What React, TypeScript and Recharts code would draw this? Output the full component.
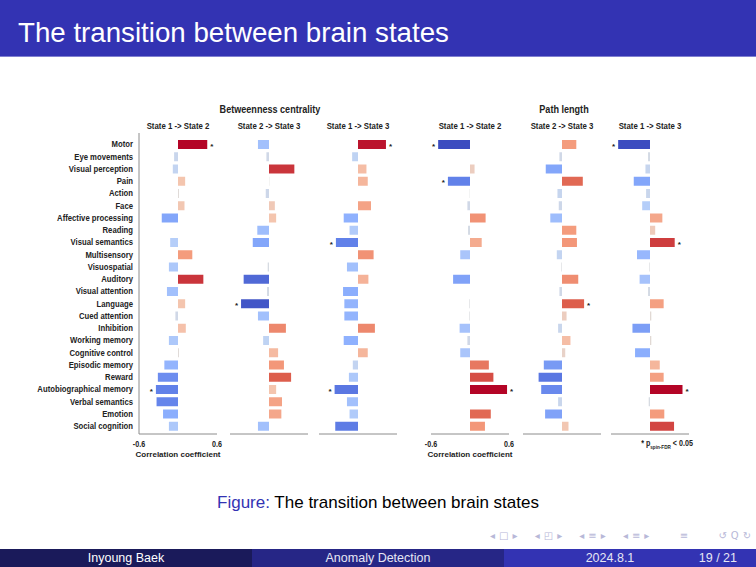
import React from "react";
import { BarChart, Bar, XAxis, YAxis, Cell, LabelList } from "recharts";

const regions = [
  "Motor",
  "Eye movements",
  "Visual perception",
  "Pain",
  "Action",
  "Face",
  "Affective processing",
  "Reading",
  "Visual semantics",
  "Multisensory",
  "Visuospatial",
  "Auditory",
  "Visual attention",
  "Language",
  "Cued attention",
  "Inhibition",
  "Working memory",
  "Cognitive control",
  "Episodic memory",
  "Reward",
  "Autobiographical memory",
  "Verbal semantics",
  "Emotion",
  "Social cognition",
];

// Betweenness centrality
const bcState12 = [0.45, -0.06, -0.08, 0.11, 0.015, 0.1, -0.25, 0, -0.12, 0.22, -0.14, 0.39, -0.17, 0.11, -0.04, 0.12, -0.14, 0.015, -0.21, -0.31, -0.34, -0.33, -0.23, -0.14];
const bcState23 = [-0.17, -0.04, 0.39, 0.005, -0.05, 0.09, 0.11, -0.18, -0.25, 0, -0.02, -0.39, -0.03, -0.43, -0.17, 0.26, -0.09, 0.14, 0.23, 0.34, 0.11, 0.2, 0.19, -0.17];
const bcState13 = [0.43, -0.09, 0.13, 0.15, 0, 0.2, -0.22, -0.13, -0.34, 0.24, -0.17, 0.16, -0.23, -0.21, -0.21, 0.26, -0.22, 0.15, -0.08, -0.14, -0.36, -0.17, -0.13, -0.35];

// Path length
const plState12 = [-0.49, 0, 0.07, -0.34, -0.005, -0.04, 0.24, -0.03, 0.18, -0.15, 0, -0.26, 0, -0.01, -0.01, -0.16, -0.04, -0.15, 0.29, 0.36, 0.57, 0, 0.32, 0.23];
const plState23 = [0.22, -0.04, -0.25, 0.32, -0.07, -0.05, -0.18, 0.22, 0.23, -0.08, -0.01, 0.25, -0.04, 0.34, 0.07, -0.06, 0.13, 0.05, -0.28, -0.36, -0.32, -0.06, -0.26, 0.1];
const plState13 = [-0.49, -0.03, -0.07, -0.25, -0.06, -0.12, 0.19, 0.08, 0.38, -0.2, -0.01, -0.16, -0.03, 0.21, 0.02, -0.27, 0.02, -0.23, 0.15, 0.21, 0.5, -0.02, 0.22, 0.37];

// p_spin-FDR < 0.05
const sigBc12 = ["Motor", "Autobiographical memory"];
const sigBc23 = ["Language"];
const sigBc13 = ["Motor", "Visual semantics", "Autobiographical memory"];
const sigPl12 = ["Motor", "Pain", "Autobiographical memory"];
const sigPl23 = ["Language"];
const sigPl13 = ["Motor", "Visual semantics", "Autobiographical memory"];

const xTicks = [-0.6, 0.6];

const CHART_FONT = "'Liberation Sans', Arial, sans-serif";
const SLIDE_FONT = "'Liberation Sans', Arial, sans-serif";
const AXIS_COLOR = "#8c8c8c";
const TEXT_COLOR = "#222";
const SQUEEZE = 0.84; // fake a condensed face

const PANEL_TOP = 133;
const PLOT_H = 301;
const X_AXIS_H = 26;
const PLOT_W = 78;
const SIDE = 16;

// matplotlib coolwarm, sampled
const coolwarm = [
  [59, 76, 192],
  [98, 130, 234],
  [141, 176, 254],
  [184, 208, 249],
  [221, 221, 221],
  [245, 196, 173],
  [244, 154, 123],
  [222, 96, 77],
  [180, 4, 38],
];

const colorFor = (v: number) => {
  const t = Math.max(0, Math.min(1, (v / 0.45 + 1) / 2));
  const p = t * (coolwarm.length - 1);
  const i = Math.min(coolwarm.length - 2, Math.floor(p));
  const f = p - i;
  const a = coolwarm[i];
  const b = coolwarm[i + 1];
  const c = a.map((ch, k) => Math.round(ch + (b[k] - ch) * f));
  return `rgb(${c[0]},${c[1]},${c[2]})`;
};

const renderStar = (props: any) => {
  const { x, y, width, height, value } = props;
  if (!value) return null;
  const x0 = Number(x);
  const x1 = Number(x) + Number(width);
  const pos = value === "+";
  const tx = pos ? Math.max(x0, x1) + 3 : Math.min(x0, x1) - 3;
  return (
    <text
      x={tx}
      y={Number(y) + Number(height) / 2 + 4}
      textAnchor={pos ? "start" : "end"}
      fontSize={8}
      fontWeight="bold"
      fontFamily={CHART_FONT}
      fill={TEXT_COLOR}
    >
      *
    </text>
  );
};

const NameTick = (props: any) => {
  const { x, y, payload } = props;
  return (
    <text
      x={0}
      y={0}
      transform={`translate(${x},${y}) scale(${SQUEEZE},1)`}
      textAnchor="end"
      dominantBaseline="central"
      fontSize={9.2}
      fontWeight="bold"
      fontFamily={CHART_FONT}
      fill={TEXT_COLOR}
    >
      {payload.value}
    </text>
  );
};

const ValueTick = (props: any) => {
  const { x, y, payload } = props;
  return (
    <text
      x={0}
      y={0}
      transform={`translate(${x},${y + 4}) scale(${SQUEEZE},1)`}
      textAnchor="middle"
      dominantBaseline="central"
      fontSize={8.5}
      fontWeight="bold"
      fontFamily={CHART_FONT}
      fill={TEXT_COLOR}
    >
      {payload.value}
    </text>
  );
};

const headStyle: React.CSSProperties = {
  position: "absolute",
  textAlign: "center",
  fontFamily: CHART_FONT,
  fontWeight: "bold",
  color: TEXT_COLOR,
  whiteSpace: "nowrap",
  transform: `scaleX(${SQUEEZE})`,
};

type PanelProps = {
  values: number[];
  sig: string[];
  left: number;
  header: string;
  first?: boolean;
  showTicks?: boolean;
};

function Panel({ values, sig, left, header, first, showTicks }: PanelProps) {
  const data = regions.map((name, i) => ({
    name,
    value: values[i],
    star: sig.includes(name) ? (values[i] >= 0 ? "+" : "-") : "",
  }));
  const yw = first ? 120 : 0;
  const ml = first ? 0 : SIDE;
  return (
    <>
      <div style={{ ...headStyle, left: left - 30, width: PLOT_W + 60, top: 121, fontSize: 9.3 }}>
        {header}
      </div>
      <div style={{ position: "absolute", left: left - yw - ml, top: PANEL_TOP }}>
        <BarChart
          layout="vertical"
          width={ml + yw + PLOT_W + SIDE}
          height={PLOT_H + X_AXIS_H}
          data={data}
          margin={{ top: 0, right: SIDE, bottom: 0, left: ml }}
        >
          <XAxis
            type="number"
            domain={[-0.6, 0.6]}
            ticks={xTicks}
            interval={0}
            allowDataOverflow
            axisLine={{ stroke: AXIS_COLOR }}
            tickLine={false}
            tickSize={4}
            tickMargin={2}
            height={X_AXIS_H}
            tick={showTicks ? <ValueTick /> : false}
            label={
              showTicks
                ? {
                    value: "Correlation coefficient",
                    position: "insideBottom",
                    offset: 3,
                    fontSize: 8,
                    fontWeight: "bold",
                    fill: TEXT_COLOR,
                    fontFamily: CHART_FONT,
                  }
                : undefined
            }
          />
          <YAxis
            type="category"
            dataKey="name"
            width={yw}
            interval={0}
            axisLine={{ stroke: AXIS_COLOR }}
            tickLine={false}
            tickSize={4}
            tickMargin={2}
            padding={{ top: 5, bottom: 2 }}
            tick={first ? <NameTick /> : false}
          />
          <Bar dataKey="value" barSize={9} isAnimationActive={false}>
            {data.map((d) => (
              <Cell key={d.name} fill={colorFor(d.value)} />
            ))}
            <LabelList dataKey="star" content={renderStar} />
          </Bar>
        </BarChart>
      </div>
    </>
  );
}

export default function App() {
  return (
    <div
      style={{
        position: "fixed",
        left: 0,
        top: 0,
        width: 756,
        height: 567,
        background: "#fff",
        overflow: "hidden",
      }}
    >
      {/* frame title */}
      <div
        style={{
          position: "absolute",
          left: 0,
          top: 0,
          width: 756,
          height: 56,
          background: "#3333b3",
          borderBottom: "1px solid #8080d0",
        }}
      />
      <div
        style={{
          position: "absolute",
          left: 18,
          top: 15,
          color: "#fff",
          fontFamily: SLIDE_FONT,
          fontSize: 27.7,
          lineHeight: "36px",
          whiteSpace: "nowrap",
        }}
      >
        The transition between brain states
      </div>

      {/* group titles */}
      <div style={{ ...headStyle, left: 170, width: 200, top: 103, fontSize: 10.8 }}>
        Betweenness centrality
      </div>
      <div style={{ ...headStyle, left: 464, width: 200, top: 103, fontSize: 10.8 }}>
        Path length
      </div>

      <Panel values={bcState12} sig={sigBc12} left={139} header="State 1 -> State 2" first showTicks />
      <Panel values={bcState23} sig={sigBc23} left={230} header="State 2 -> State 3" />
      <Panel values={bcState13} sig={sigBc13} left={319} header="State 1 -> State 3" />
      <Panel values={plState12} sig={sigPl12} left={431} header="State 1 -> State 2" showTicks />
      <Panel values={plState23} sig={sigPl23} left={523} header="State 2 -> State 3" />
      <Panel values={plState13} sig={sigPl13} left={611} header="State 1 -> State 3" />

      <div
        style={{
          ...headStyle,
          left: 617,
          width: 100,
          top: 438,
          fontSize: 8.5,
        }}
      >
        * p<sub style={{ fontSize: 5.5 }}>spin-FDR</sub> &lt; 0.05
      </div>

      {/* caption */}
      <div
        style={{
          position: "absolute",
          left: 0,
          width: 756,
          top: 493,
          textAlign: "center",
          fontFamily: SLIDE_FONT,
          fontSize: 17,
          whiteSpace: "nowrap",
        }}
      >
        <span style={{ color: "#3333b3" }}>Figure:</span>{" "}
        <span style={{ color: "#000" }}>The transition between brain states</span>
      </div>

      {/* navigation symbols */}
      <div
        style={{
          position: "absolute",
          left: 490,
          top: 530,
          fontFamily: "'DejaVu Sans', sans-serif",
          fontSize: 10,
          color: "#b8b8d8",
          letterSpacing: 4,
          wordSpacing: 6,
          whiteSpace: "nowrap",
        }}
      >
        ◂□▸ ◂◰▸ ◂≡▸ ◂≡▸ &nbsp;≡&nbsp; ↺Q↻
      </div>

      {/* footline */}
      <div
        style={{
          position: "absolute",
          left: 0,
          top: 549,
          width: 756,
          height: 18,
          fontFamily: SLIDE_FONT,
          fontSize: 12.5,
          lineHeight: "18px",
          color: "#e6e6f4",
        }}
      >
        <div style={{ position: "absolute", left: 0, width: 252, height: 18, background: "#1a1a5a", textAlign: "center", color: "#fff" }}>
          Inyoung Baek
        </div>
        <div style={{ position: "absolute", left: 252, width: 252, height: 18, background: "#262686", textAlign: "center" }}>
          Anomaly Detection
        </div>
        <div style={{ position: "absolute", left: 504, width: 252, height: 18, background: "#3333b3" }} />
        <div style={{ position: "absolute", left: 560, width: 100, textAlign: "center" }}>2024.8.1</div>
        <div style={{ position: "absolute", left: 680, width: 57, textAlign: "right" }}>19 / 21</div>
      </div>
    </div>
  );
}
